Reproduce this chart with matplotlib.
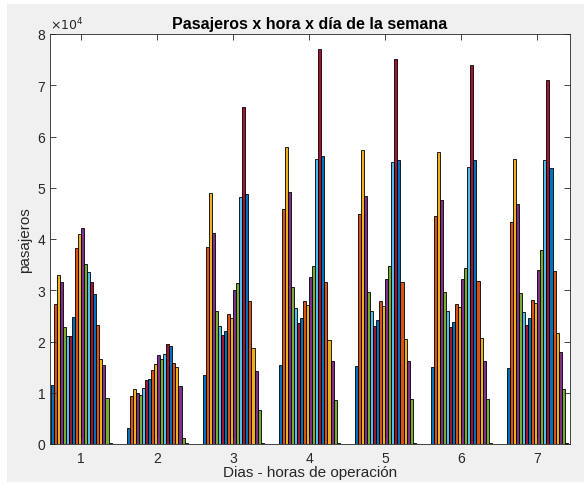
import numpy as np
import matplotlib
matplotlib.use("Agg")
import matplotlib.pyplot as plt
from matplotlib.patches import Rectangle

# pasajeros por hora (20 franjas) para cada dia de la semana
dias = [1, 2, 3, 4, 5, 6, 7]
dia1 = [11500, 27300, 33000, 31700, 22800, 21100, 21100, 24800, 38200, 41000,
        42200, 35200, 33600, 31600, 29300, 23200, 16600, 15400, 8900, 150]
dia2 = [3100, 9300, 10800, 10000, 9600, 11000, 12400, 12700, 14400, 15700,
        17300, 16600, 17600, 19500, 19100, 15900, 15000, 11300, 1100, 100]
dia3 = [13500, 38400, 48900, 41200, 26000, 23100, 21300, 22100, 25400, 24500,
        30000, 31500, 48100, 65800, 48700, 28000, 18700, 14200, 6700, 100]
dia4 = [15400, 45800, 57900, 49200, 30600, 26500, 23600, 24500, 28000, 27100,
        32500, 34700, 55600, 77000, 56100, 31700, 20300, 16100, 8500, 100]
dia5 = [15200, 44900, 57400, 48300, 29700, 26000, 23000, 24100, 28000, 26900,
        32200, 34700, 55000, 75100, 55400, 31700, 20400, 16200, 8700, 100]
dia6 = [15000, 44500, 56900, 47600, 29600, 25900, 22800, 23800, 27400, 26800,
        32100, 34400, 54100, 74000, 55500, 31800, 20600, 16200, 8700, 100]
dia7 = [14800, 43300, 55600, 46800, 29400, 25700, 23200, 24500, 28100, 27500,
        33900, 37900, 55400, 71000, 53900, 33800, 21600, 18000, 10700, 200]

datos = np.array([dia1, dia2, dia3, dia4, dia5, dia6, dia7])

# orden de colores por defecto de MATLAB
colores = [(0, 0.447, 0.741), (0.85, 0.325, 0.098), (0.929, 0.694, 0.125),
           (0.494, 0.184, 0.556), (0.466, 0.674, 0.188), (0.301, 0.745, 0.933),
           (0.635, 0.078, 0.184)]

plt.rcParams['font.family'] = ['Liberation Sans', 'DejaVu Sans']

fig = plt.figure(figsize=(5.84, 4.85), dpi=100, facecolor='white')
# fondo gris de la ventana con un borde blanco fino
fig.patches.append(Rectangle((7 / 584, 2 / 485), 577 / 584, 478 / 485,
                             transform=fig.transFigure, facecolor='#f0f0f0',
                             edgecolor='none', zorder=-10))
ax = fig.add_axes([50 / 584, 40 / 485, 520 / 584, 410 / 485])
ax.set_zorder(1)
ax.set_facecolor('white')

nh = datos.shape[1]
ancho = 0.8 / nh
x = np.array(dias, dtype=float)
for h in range(nh):
    pos = x - 0.4 + ancho * (h + 0.5)
    ax.bar(pos, datos[:, h], width=ancho, color=colores[h % 7],
           edgecolor='black', linewidth=0.6)

ax.set_xlim(0.59, 7.43)
ax.set_ylim(0, 80000)
ax.set_xticks(dias)
ax.set_yticks(np.arange(0, 80001, 10000))
ax.set_yticklabels([str(i) for i in range(9)])
ax.tick_params(direction='in', length=4, width=0.6, colors='#262626',
               labelsize=10, top=True, right=True, labeltop=False, labelright=False)
ax.tick_params(axis='x', pad=5)
for s in ax.spines.values():
    s.set_color('#262626')
    s.set_linewidth(0.6)

ax.text(0.0, 1.005, r'$\times10^{4}$', transform=ax.transAxes, fontsize=9,
        color='#262626', ha='left', va='bottom')
ax.set_title('Pasajeros x hora x día de la semana', fontsize=11.5, fontweight='bold',
             pad=4)
ax.set_xlabel('Dias - horas de operación', fontsize=11, color='#262626', labelpad=0)
ax.set_ylabel('pasajeros', fontsize=11, color='#262626', labelpad=4)

fig.savefig('out.png', dpi=100, facecolor=fig.get_facecolor())
